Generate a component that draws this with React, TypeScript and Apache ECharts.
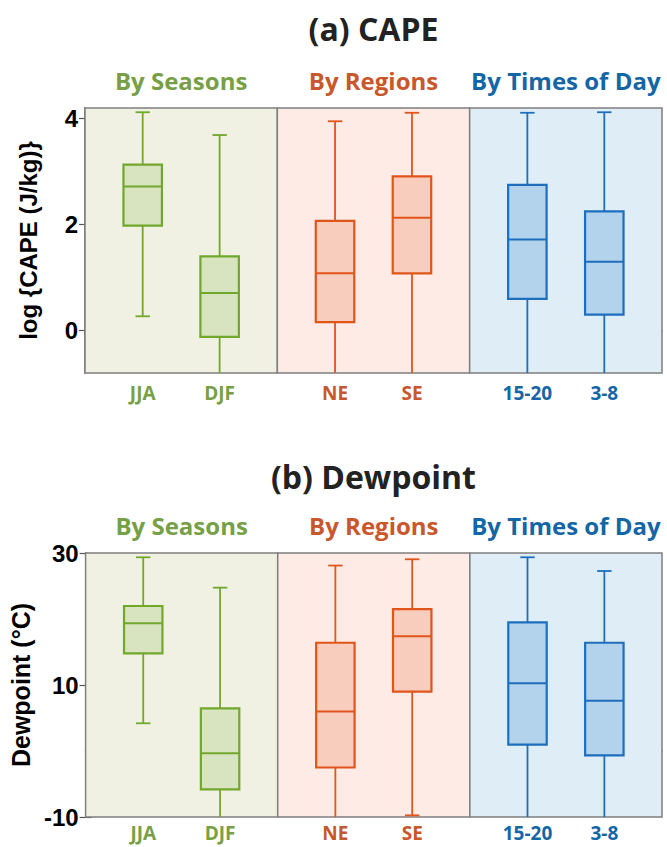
import React, { useEffect, useRef } from "react";
import * as echarts from "echarts";

// ---- data ----
const categories = ["JJA", "DJF", "NE", "SE", "15-20", "3-8"];
const categorySlots = [0.3, 0.7, 1.3, 1.7, 2.3, 2.7];
const categoryGroup = [0, 0, 1, 1, 2, 2];
const groupNames = ["By Seasons", "By Regions", "By Times of Day"];
const groupCenters = [0.5, 1.5, 2.5];
const groupStarts = [0, 1, 2];
const groupEnds = [1, 2, 3];

// (a) CAPE, log {CAPE (J/kg)}
const capeMin = [0.27, -1.5, -1.5, -1.5, -1.5, -1.5];
const capeQ1 = [1.98, -0.12, 0.16, 1.08, 0.6, 0.3];
const capeMedian = [2.72, 0.71, 1.08, 2.13, 1.72, 1.3];
const capeQ3 = [3.13, 1.4, 2.07, 2.91, 2.75, 2.25];
const capeMax = [4.12, 3.69, 3.95, 4.11, 4.11, 4.12];
const capeTicks = [0, 2, 4];

// (b) Dewpoint (°C)
const dewMin = [4.2, -15, -15, -9.75, -15, -15];
const dewQ1 = [14.8, -5.8, -2.5, 9.0, 0.97, -0.65];
const dewMedian = [19.35, -0.35, 5.97, 17.4, 10.26, 7.6];
const dewQ3 = [21.97, 6.47, 16.4, 21.5, 19.5, 16.4];
const dewMax = [29.35, 24.75, 28.1, 29.05, 29.35, 27.27];
const dewTicks = [-10, 10, 30];

// ---- styles ----
const groupText = ["#77a046", "#c9572b", "#1466a6"];
const groupStroke = ["#70a82c", "#e0561a", "#1d6fbd"];
const groupFill = ["#d8e3c0", "#f9cdbd", "#b2d3eb"];
const groupBg = ["#f1f1e3", "#feebe5", "#dfeef6"];
const frame = "#7f7f7f";

function slotIndex(v: number | string) {
  const n = typeof v === "string" ? parseFloat(v) : v;
  let best = 0;
  let bd = Infinity;
  categorySlots.forEach((p, i) => {
    const d = Math.abs(p - n);
    if (d < bd) { bd = d; best = i; }
  });
  return best;
}
function groupIndexOf(v: number | string) {
  const n = typeof v === "string" ? parseFloat(v) : v;
  let best = 0;
  let bd = Infinity;
  groupCenters.forEach((p, i) => {
    const d = Math.abs(p - n);
    if (d < bd) { bd = d; best = i; }
  });
  return best;
}

export default function App() {
  const ref = useRef<HTMLDivElement>(null);
  useEffect(() => {
    if (!ref.current) return;
    const chart = echarts.init(ref.current, null, { renderer: "svg" });

    const panels = [
      {
        top: 108, height: 265, min: -0.8, max: 4.2, ticks: capeTicks,
        name: "log {CAPE (J/kg)}", nameSize: 24, nameGap: 45,
        mins: capeMin, q1: capeQ1, med: capeMedian, q3: capeQ3, maxs: capeMax,
        labelMargin: 10,
      },
      {
        top: 553, height: 264, min: -10, max: 30, ticks: dewTicks,
        name: "Dewpoint (°C)", nameSize: 25, nameGap: 45,
        mins: dewMin, q1: dewQ1, med: dewMedian, q3: dewQ3, maxs: dewMax,
        labelMargin: 6,
      },
    ];

    const grid: any[] = [];
    const xAxis: any[] = [];
    const yAxis: any[] = [];
    const series: any[] = [];

    panels.forEach((p, gi) => {
      grid.push({ left: 85, right: 5, top: p.top, height: p.height });
      xAxis.push({
        type: "value", gridIndex: gi, position: "bottom", min: 0, max: 3,
        axisLine: { show: true, lineStyle: { color: frame, width: 1.5 } },
        axisTick: { show: false },
        splitLine: { show: false },
        axisLabel: {
          customValues: categorySlots,
          formatter: (v: number) => categories[slotIndex(v)],
          color: (v: any) => groupText[categoryGroup[slotIndex(v)]],
          fontFamily: "Open Sans", fontWeight: "bold", fontSize: 19,
          lineHeight: 20,
          margin: p.labelMargin,
        },
      });
      xAxis.push({
        type: "value", gridIndex: gi, position: "top", min: 0, max: 3,
        axisLine: { show: true, lineStyle: { color: frame, width: 1.5 } },
        axisTick: { show: false },
        splitLine: { show: false },
        axisLabel: {
          customValues: groupCenters,
          formatter: (v: number) => groupNames[groupIndexOf(v)],
          color: (v: any) => groupText[groupIndexOf(v)],
          fontFamily: "Open Sans", fontWeight: "bold", fontSize: 24,
          margin: 16,
        },
      });
      yAxis.push({
        type: "value", gridIndex: gi, position: "left", min: p.min, max: p.max,
        axisLine: { show: true, lineStyle: { color: frame, width: 1.5 } },
        axisTick: { show: true, inside: true, length: 6, customValues: p.ticks, lineStyle: { color: "#555", width: 1.2 } },
        splitLine: { show: false },
        axisLabel: {
          customValues: p.ticks,
          fontFamily: "Liberation Sans", fontWeight: "bold", fontSize: 24,
          color: "#000", margin: 7,
        },
        name: p.name, nameLocation: "middle", nameGap: p.nameGap,
        nameTextStyle: { fontFamily: "Liberation Sans", fontWeight: "bold", fontSize: p.nameSize, color: "#000" },
      });
      yAxis.push({
        type: "value", gridIndex: gi, position: "right", min: p.min, max: p.max,
        axisLine: { show: true, lineStyle: { color: frame, width: 1.5 } },
        axisTick: { show: true, inside: true, length: 6, customValues: p.ticks, lineStyle: { color: "#555", width: 1.2 } },
        splitLine: { show: false },
        axisLabel: { show: false },
      });

      // panel backgrounds
      series.push({
        type: "custom", xAxisIndex: gi * 2, yAxisIndex: gi * 2, silent: true, z: 1,
        encode: { x: [0, 1] },
        data: groupStarts.map((s, i) => [s, groupEnds[i], i]),
        renderItem: (params: any, api: any) => {
          const cs = params.coordSys;
          const x0 = api.coord([api.value(0), p.min])[0];
          const x1 = api.coord([api.value(1), p.min])[0];
          const g = api.value(2);
          return {
            type: "rect",
            shape: { x: x0, y: cs.y, width: x1 - x0, height: cs.height },
            style: { fill: groupBg[g], stroke: frame, lineWidth: 1.5 },
          };
        },
      });

      // box plots
      series.push({
        type: "custom", xAxisIndex: gi * 2, yAxisIndex: gi * 2, silent: true, z: 3, clip: true,
        encode: { x: 0, y: [1, 2, 3, 4, 5] },
        data: categories.map((_, i) => [
          categorySlots[i], p.mins[i], p.q1[i], p.med[i], p.q3[i], p.maxs[i], categoryGroup[i],
        ]),
        renderItem: (params: any, api: any) => {
          const xv = api.value(0);
          const cx = api.coord([xv, 0])[0];
          const yMin = api.coord([xv, api.value(1)])[1];
          const yQ1 = api.coord([xv, api.value(2)])[1];
          const yMed = api.coord([xv, api.value(3)])[1];
          const yQ3 = api.coord([xv, api.value(4)])[1];
          const yMax = api.coord([xv, api.value(5)])[1];
          const g = api.value(6);
          const boxW = api.size([0.2, 0])[0];
          const capW = api.size([0.075, 0])[0];
          const stroke = groupStroke[g];
          const ls = { stroke, lineWidth: 1.8 };
          return {
            type: "group",
            children: [
              { type: "line", shape: { x1: cx, y1: yMax, x2: cx, y2: yQ3 }, style: ls },
              { type: "line", shape: { x1: cx, y1: yQ1, x2: cx, y2: yMin }, style: ls },
              { type: "line", shape: { x1: cx - capW / 2, y1: yMax, x2: cx + capW / 2, y2: yMax }, style: ls },
              { type: "line", shape: { x1: cx - capW / 2, y1: yMin, x2: cx + capW / 2, y2: yMin }, style: ls },
              {
                type: "rect",
                shape: { x: cx - boxW / 2, y: yQ3, width: boxW, height: yQ1 - yQ3 },
                style: { fill: groupFill[g], stroke, lineWidth: 2.2 },
              },
              { type: "line", shape: { x1: cx - boxW / 2, y1: yMed, x2: cx + boxW / 2, y2: yMed }, style: { stroke, lineWidth: 2 } },
            ],
          };
        },
      });
    });

    chart.setOption({
      animation: false,
      backgroundColor: "#ffffff",
      grid,
      xAxis,
      yAxis,
      series,
      graphic: [
        {
          type: "text", x: 373.5, y: 28,
          style: {
            text: "(a) CAPE", textAlign: "center", textVerticalAlign: "middle",
            fontFamily: "Open Sans", fontWeight: "bold", fontSize: 32, fill: "#222",
          },
        },
        {
          type: "text", x: 373.5, y: 476,
          style: {
            text: "(b) Dewpoint", textAlign: "center", textVerticalAlign: "middle",
            fontFamily: "Open Sans", fontWeight: "bold", fontSize: 32, fill: "#222",
          },
        },
      ],
    });
    return () => chart.dispose();
  }, []);
  return (
    <div
      ref={ref}
      style={{ position: "absolute", left: 0, top: 0, width: 667, height: 847, background: "#fff" }}
    />
  );
}
